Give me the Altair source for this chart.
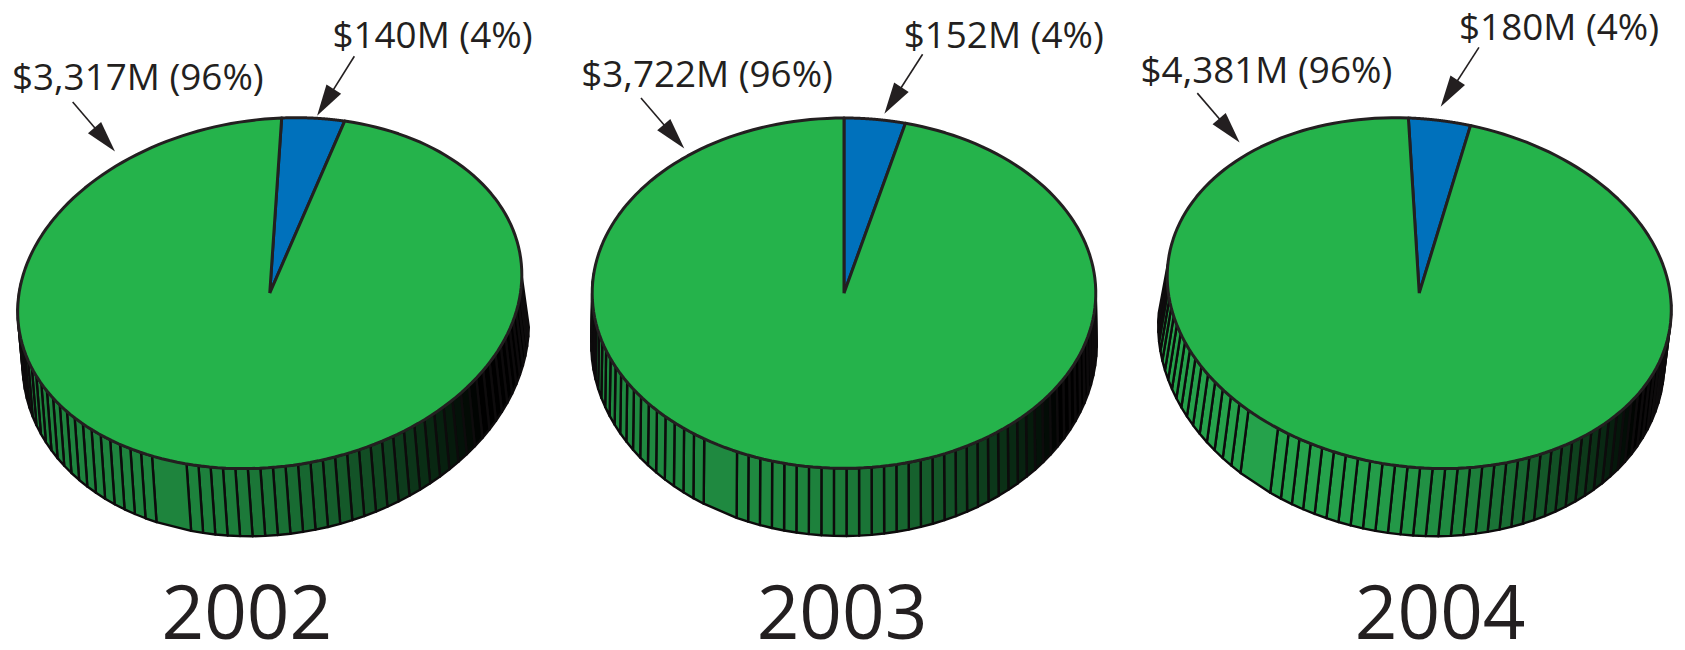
import math
import altair as alt
import pandas as pd

# ---------------- data ----------------
years = [2002, 2003, 2004]
green_values = [3317, 3722, 4381]   # large slice ($M)
blue_values = [140, 152, 180]       # small slice ($M)
slice_names = ["blue", "green"]
slice_colors = ["#0071bc", "#25b34b"]

# ---------------- layout (pixels of the 1685x650 picture) ----------------
W, H = 1677, 634
OX, OY = 8, 8
pie_cx = [271, 848, 1426]
PIE_CY = 293
RX, RY = 253, 176
skew_a = [-0.068, 0.0, 0.062]
skew_b = [-0.040, 0.0, 0.036]
bot_dx = [6, 0, -8]
BOT_DY, RXB, RYB = 51, 254, 193
side_peak = [0.75, 0.78, 0.92]
wide_facet = [38, 41, 45]
START = 0.0
OUTLINE = "#231f20"
TEXT = "#231f20"
FONT = "Open Sans"

# label / arrow layout per year: [blue, green]
label_x = [[334, 12], [908, 584], [1466, 1146]]
label_y = [[47, 89], [47, 86], [39, 82]]
arrow_tail = [[(356, 55), (73, 101)], [(927, 53), (644, 97)], [(1486, 46), (1203, 92)]]
arrow_tip = [[(319, 114), (115, 150)], [(889, 112), (687, 147)], [(1448, 105), (1245, 141)]]
year_x = [248, 846, 1447]
YEAR_Y = 641

# ---------------- tables built from the arrays ----------------
layout = pd.DataFrame({
    "year": years,
    "cx": [c - OX for c in pie_cx],
    "a": skew_a,
    "b": skew_b,
    "dxb": bot_dx,
    "peak": side_peak,
    "wk": wide_facet,
})

top_rows = []
for i, y in enumerate(years):
    for j, (name, val) in enumerate(zip(slice_names, (blue_values[i], green_values[i]))):
        tx, ty = arrow_tail[i][j]
        px, py = arrow_tip[i][j]
        dx, dy = px - tx, py - ty
        ln = math.hypot(dx, dy)
        top_rows.append({
            "year": y, "slice": name, "value": val, "ord": j,
            "cx": pie_cx[i] - OX, "a": skew_a[i], "b": skew_b[i],
            "lx": label_x[i][j] - OX, "ly": label_y[i][j] - OY,
            "tx": tx - OX, "ty": ty - OY,
            "hx": px - OX - 15 * dx / ln, "hy": py - OY - 15 * dy / ln,
            "ang": math.degrees(math.atan2(dx, -dy)) % 360,
        })
top_df = pd.DataFrame(top_rows)
year_df = pd.DataFrame({"label": [str(y) for y in years],
                        "x": [v - OX for v in year_x],
                        "y": [YEAR_Y - OY] * len(years)})

xs = alt.Scale(domain=[0, W], nice=False, zero=False)
ys = alt.Scale(domain=[0, H], nice=False, zero=False, reverse=True)
CY = PIE_CY - OY

# ---------------- side of the cylinders (facets) ----------------
NF = 66
STEP = 2 * math.pi / 126
T0 = math.radians(88)
side = (
    alt.Chart(layout)
    .transform_calculate(k=f"sequence(0, {NF})")
    .transform_flatten(["k"])
    .transform_filter("datum.k != datum.wk + 1 && datum.k != datum.wk + 2")
    .transform_calculate(
        t0=f"{T0} + datum.k*{STEP}",
        t1=f"{T0} + (datum.k + (datum.k == datum.wk ? 3 : 1))*{STEP}",
    )
    .transform_calculate(c="sequence(0, 5)")
    .transform_flatten(["c"])
    .transform_calculate(
        tt="(datum.c == 1 || datum.c == 2) ? datum.t1 : datum.t0",
        bot="datum.c == 2 || datum.c == 3",
    )
    .transform_calculate(
        u=f"(datum.bot ? {RXB} : {RX}) * sin(datum.tt)",
        v=f"-(datum.bot ? {RYB} : {RY}) * cos(datum.tt)",
    )
    .transform_calculate(
        X="datum.cx + (datum.bot ? datum.dxb : 0) + datum.u + datum.a*datum.v",
        Y=f"{CY} + (datum.bot ? {BOT_DY} : 0) + datum.v + datum.b*datum.u",
        g="datum.peak * sin(clamp(((datum.t0+datum.t1)*90/PI - 122)/83, 0, 1)*PI/2)",
        key="datum.year + '-' + datum.k",
    )
    .transform_calculate(
        col="'rgb(' + round(40*datum.g) + ',' + round(176*datum.g) + ',' + round(82*datum.g) + ')'"
    )
    .mark_line(filled=True, stroke="#0d0b0c", strokeWidth=2.4, strokeJoin="round")
    .encode(
        x=alt.X("X:Q", scale=xs, axis=None),
        y=alt.Y("Y:Q", scale=ys, axis=None),
        order=alt.Order("c:Q"),
        detail="key:N",
        color=alt.Color("col:N", scale=None, legend=None),
    )
)

# ---------------- top faces (pie slices) ----------------
N = 180
top = (
    alt.Chart(top_df)
    .transform_joinaggregate(total="sum(value)", groupby=["year"])
    .transform_window(cum="sum(value)", sort=[alt.SortField("ord")], groupby=["year"], frame=[None, 0])
    .transform_calculate(
        a0=f"{START} + 2*PI*(datum.cum - datum.value)/datum.total",
        a1=f"{START} + 2*PI*datum.cum/datum.total",
    )
    .transform_calculate(p=f"sequence(-1, {N + 2})")
    .transform_flatten(["p"])
    .transform_calculate(
        t=f"datum.a0 + (datum.a1 - datum.a0)*clamp(datum.p, 0, {N})/{N}",
        isc=f"datum.p < 0 || datum.p > {N}",
    )
    .transform_calculate(
        u=f"datum.isc ? 0 : {RX}*sin(datum.t)",
        v=f"datum.isc ? 0 : -{RY}*cos(datum.t)",
    )
    .transform_calculate(
        X="datum.cx + datum.u + datum.a*datum.v",
        Y=f"{CY} + datum.v + datum.b*datum.u",
        key="datum.year + '-' + datum.slice",
    )
    .mark_line(filled=True, stroke=OUTLINE, strokeWidth=3, strokeJoin="round")
    .encode(
        x=alt.X("X:Q", scale=xs, axis=None),
        y=alt.Y("Y:Q", scale=ys, axis=None),
        order=alt.Order("p:Q"),
        detail="key:N",
        color=alt.Color("slice:N", scale=alt.Scale(domain=slice_names, range=slice_colors), legend=None),
    )
)

# ---------------- labels and arrows ----------------
labels = (
    alt.Chart(top_df)
    .transform_joinaggregate(total="sum(value)", groupby=["year"])
    .transform_calculate(
        label="'$' + format(datum.value, ',') + 'M (' + format(datum.value/datum.total, '.0%') + ')'"
    )
    .mark_text(align="left", baseline="alphabetic", font=FONT, fontSize=37, color=TEXT)
    .encode(
        x=alt.X("lx:Q", scale=xs, axis=None),
        y=alt.Y("ly:Q", scale=ys, axis=None),
        text="label:N",
    )
)

arrow_lines = (
    alt.Chart(top_df)
    .mark_rule(color=TEXT, strokeWidth=1.6)
    .encode(
        x=alt.X("tx:Q", scale=xs, axis=None),
        y=alt.Y("ty:Q", scale=ys, axis=None),
        x2="hx:Q",
        y2="hy:Q",
    )
)

arrow_heads = (
    alt.Chart(top_df)
    .mark_point(shape="M0,-1L0.55,1L-0.55,1Z", filled=True, size=1000, color=TEXT, opacity=1)
    .encode(
        x=alt.X("hx:Q", scale=xs, axis=None),
        y=alt.Y("hy:Q", scale=ys, axis=None),
        angle=alt.Angle("ang:Q", scale=None),
    )
)

year_text = (
    alt.Chart(year_df)
    .mark_text(align="center", baseline="alphabetic", font=FONT, fontSize=75, color=TEXT)
    .encode(
        x=alt.X("x:Q", scale=xs, axis=None),
        y=alt.Y("y:Q", scale=ys, axis=None),
        text="label:N",
    )
)

chart = (
    alt.layer(side, top, arrow_lines, arrow_heads, labels, year_text)
    .properties(width=W, height=H, padding=0, autosize=alt.AutoSizeParams(type="none"))
    .configure_view(stroke=None)
)

chart.save("out.html", embed_options={"renderer": "svg", "actions": False})
